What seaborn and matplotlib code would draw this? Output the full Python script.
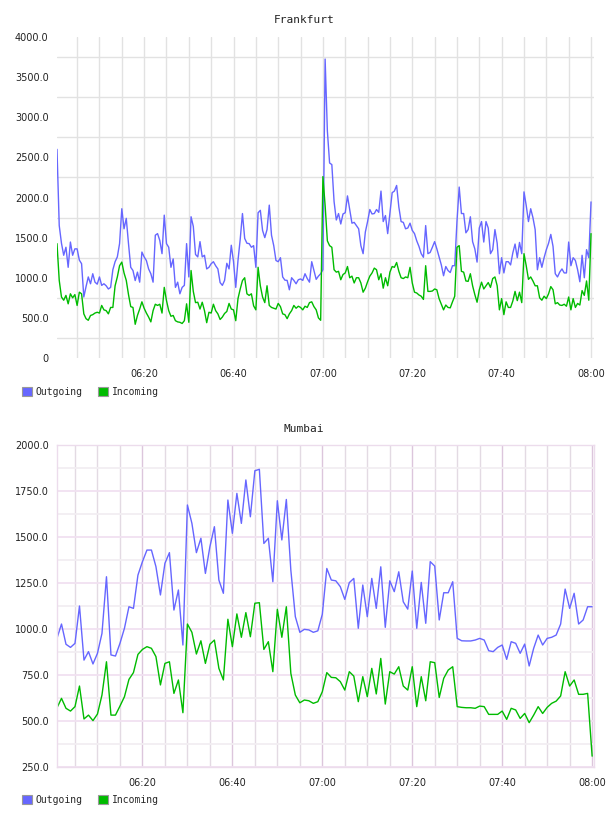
import matplotlib
matplotlib.use('Agg')
import matplotlib.pyplot as plt
import matplotlib.dates as mdates
from matplotlib.patches import Patch
from matplotlib.ticker import MultipleLocator, FuncFormatter
import seaborn as sns
import pandas as pd

# Frankfurt: one sample every 30 s from 06:00:30
frankfurt_outgoing = [
    2600, 1650, 1430, 1280, 1380, 1130, 1445, 1280, 1360, 1360,
    1220, 1175, 760, 890, 1010, 925, 1050, 945, 920, 1010,
    905, 925, 900, 860, 880, 1100, 1200, 1260, 1425, 1860,
    1610, 1740, 1425, 1130, 1090, 965, 1070, 945, 1320, 1260,
    1215, 1110, 1050, 945, 1530, 1550, 1465, 1300, 1780, 1425,
    1380, 1130, 1235, 880, 945, 800, 880, 905, 1425, 1010,
    1760, 1640, 1290, 1260, 1450, 1260, 1280, 1110, 1130, 1175,
    1200, 1150, 1110, 940, 905, 967, 1180, 1110, 1405, 1200,
    880, 1215, 1480, 1800, 1490, 1430, 1425, 1380, 1400, 1130,
    1810, 1840, 1590, 1500, 1600, 1905, 1530, 1400, 1215, 1200,
    1250, 1010, 970, 967, 850, 1000, 967, 925, 975, 985,
    967, 1050, 990, 945, 1200, 1090, 980, 1020, 1050, 1100,
    3725, 2830, 2430, 2410, 1950, 1720, 1800, 1670, 1795, 1810,
    2020, 1850, 1680, 1690, 1650, 1610, 1400, 1300, 1570, 1700,
    1850, 1795, 1800, 1850, 1815, 2080, 1700, 1775, 1550, 1800,
    2060, 2080, 2150, 1880, 1700, 1690, 1610, 1620, 1680, 1590,
    1550, 1460, 1390, 1300, 1255, 1650, 1300, 1315, 1380, 1450,
    1360, 1260, 1160, 1025, 1140, 1090, 1065, 1150, 1150, 1700,
    2130, 1800, 1800, 1560, 1600, 1760, 1450, 1360, 1195, 1620,
    1700, 1445, 1700, 1620, 1300, 1350, 1600, 1430, 1050, 1250,
    1060, 1200, 1200, 1160, 1310, 1420, 1250, 1440, 1300, 2070,
    1900, 1700, 1860, 1750, 1600, 1100, 1250, 1130, 1250, 1350,
    1430, 1540, 1390, 1050, 1010, 1070, 1110, 1060, 1060, 1445,
    1150, 1250, 1215, 1100, 950, 1280, 1000, 1350, 1250, 1945,
]
frankfurt_incoming = [
    1425, 967, 760, 720, 780, 675, 800, 750, 790, 655,
    820, 800, 550, 490, 470, 530, 540, 560, 570, 560,
    655, 600, 590, 550, 630, 630, 900, 1010, 1150, 1195,
    1060, 967, 790, 640, 630, 420, 530, 610, 700, 620,
    560, 510, 450, 590, 670, 655, 670, 560, 880, 715,
    590, 520, 530, 465, 450, 445, 430, 465, 675, 445,
    1090, 830, 690, 695, 610, 695, 590, 440, 570, 560,
    670, 590, 550, 480, 510, 555, 580, 680, 610, 600,
    465, 740, 860, 965, 1000, 800, 780, 800, 650, 600,
    1130, 900, 760, 690, 900, 655, 630, 620, 610, 680,
    640, 550, 540, 490, 550, 590, 655, 620, 645, 630,
    600, 645, 630, 690, 700, 640, 600, 500, 470, 2260,
    1900, 1460, 1400, 1380, 1100, 1070, 1080, 975, 1040, 1060,
    1140, 1000, 1020, 935, 1000, 1000, 935, 820, 870, 950,
    1020, 1060, 1120, 1100, 975, 1050, 870, 1000, 900, 1070,
    1140, 1130, 1190, 1080, 1000, 990, 1010, 1000, 1130, 935,
    820, 810, 785, 770, 730, 1150, 830, 830, 835, 860,
    850, 740, 670, 600, 660, 630, 625, 700, 770, 1380,
    1400, 1080, 1070, 960, 955, 1050, 900, 790, 695, 850,
    945, 860, 900, 940, 880, 990, 1010, 900, 600, 740,
    540, 700, 630, 630, 710, 830, 715, 820, 690, 1300,
    1150, 980, 1010, 960, 900, 900, 750, 720, 770, 740,
    800, 890, 850, 675, 690, 660, 655, 670, 645, 760,
    600, 740, 630, 680, 660, 840, 780, 960, 720, 1550,
]

# Mumbai: one sample every minute from 06:01
mumbai_outgoing = [
    950, 1027, 917, 900, 922, 1125, 831, 877, 810, 868,
    976, 1284, 859, 853, 922, 1004, 1121, 1112, 1293, 1366,
    1429, 1429, 1339, 1185, 1357, 1415, 1103, 1212, 913, 1674,
    1574, 1415, 1493, 1302, 1447, 1556, 1266, 1194, 1701, 1520,
    1737, 1574, 1810, 1610, 1860, 1868, 1465, 1493, 1257, 1697,
    1484, 1704, 1320, 1067, 982, 998, 995, 982, 990, 1080,
    1329, 1266, 1262, 1230, 1161, 1252, 1275, 1004, 1239, 1067,
    1275, 1112, 1338, 1009, 1262, 1203, 1311, 1148, 1108, 1315,
    1004, 1253, 1031, 1366, 1342, 1049, 1197, 1197, 1257, 949,
    936, 935, 935, 940, 949, 940, 882, 877, 900, 913,
    835, 931, 922, 868, 918, 799, 895, 967, 913, 949,
    955, 967, 1027, 1217, 1112, 1194, 1027, 1049, 1121, 1121,
]
mumbai_incoming = [
    572, 623, 569, 554, 578, 690, 511, 532, 502, 538,
    641, 822, 532, 532, 581, 632, 726, 763, 862, 889,
    904, 895, 850, 696, 813, 822, 650, 723, 545, 1027,
    982, 864, 936, 813, 917, 940, 786, 723, 1053, 904,
    1082, 955, 1089, 958, 1140, 1143, 889, 931, 768, 1107,
    955, 1121, 759, 641, 599, 614, 610, 596, 605, 659,
    763, 737, 735, 714, 668, 768, 744, 605, 741, 632,
    786, 647, 840, 592, 768, 755, 795, 690, 668, 795,
    578, 741, 610, 822, 817, 628, 732, 777, 795, 578,
    574, 572, 572, 569, 581, 578, 536, 536, 536, 554,
    509, 569, 560, 514, 541, 491, 532, 578, 541, 574,
    596, 608, 636, 768, 690, 723, 645, 645, 650, 309,
]

series_names = ['Outgoing', 'Incoming']
colors = {'Outgoing': '#6666ff', 'Incoming': '#00bb00'}

frankfurt_times = pd.date_range('2024-01-01 06:00:30', periods=len(frankfurt_outgoing), freq='30s')
mumbai_times = pd.date_range('2024-01-01 06:01:00', periods=len(mumbai_outgoing), freq='1min')


def make_frame(times, outgoing, incoming):
    df = pd.DataFrame({'time': times, 'Outgoing': outgoing, 'Incoming': incoming})
    return df.melt(id_vars='time', var_name='series', value_name='value')


def fmt_value(v, pos):
    return '0' if v == 0 else f'{v:.1f}'


sns.set_theme(style='white')
plt.rcParams['font.family'] = ['DejaVu Sans']

fig = plt.figure(figsize=(6.08, 8.16), dpi=100)
W, H = 608, 816


def add_panel(px_left, px_top, px_right, px_bottom):
    return fig.add_axes([px_left / W, 1 - px_bottom / H,
                         (px_right - px_left) / W, (px_bottom - px_top) / H])


ax1 = add_panel(57, 37, 594, 358)
ax2 = add_panel(57, 445, 594, 767)

for ax, times, out, inc in [(ax1, frankfurt_times, frankfurt_outgoing, frankfurt_incoming),
                             (ax2, mumbai_times, mumbai_outgoing, mumbai_incoming)]:
    df = make_frame(times, out, inc)
    sns.lineplot(data=df, x='time', y='value', hue='series', hue_order=series_names,
                 palette=colors, estimator=None, linewidth=1.0, legend=False, ax=ax)
    ax.set_xlabel('')
    ax.set_ylabel('')
    ax.xaxis.set_major_locator(mdates.MinuteLocator(byminute=[0, 20, 40]))
    ax.xaxis.set_minor_locator(mdates.MinuteLocator(byminute=list(range(0, 60, 5))))
    ax.xaxis.set_major_formatter(mdates.DateFormatter('%H:%M'))
    ax.tick_params(which='both', length=0, labelsize=7, colors='#222222')
    ax.tick_params(axis='x', pad=8)
    ax.tick_params(axis='y', pad=6)
    ax.set_axisbelow(True)

# Frankfurt styling: gray grid, offset horizontal lines, no frame
ax1.set_xlim(frankfurt_times[0], frankfurt_times[-1] + pd.Timedelta(seconds=40))
ax1.set_ylim(0, 4000)
ax1.yaxis.set_major_locator(MultipleLocator(500))
ax1.yaxis.set_minor_locator(MultipleLocator(500, offset=250))
ax1.yaxis.set_major_formatter(FuncFormatter(fmt_value))
ax1.grid(False)
ax1.grid(True, which='both', axis='x', color='#e2e2e2', linewidth=1.0)
ax1.grid(True, which='minor', axis='y', color='#e2e2e2', linewidth=1.0)
for s in ax1.spines.values():
    s.set_visible(False)

# Mumbai styling: pinkish grid with major/minor
ax2.set_xlim(mumbai_times[0], mumbai_times[-1] + pd.Timedelta(seconds=25))
ax2.set_ylim(250, 2000)
ax2.yaxis.set_major_locator(MultipleLocator(250))
ax2.yaxis.set_minor_locator(MultipleLocator(250, offset=125))
ax2.yaxis.set_major_formatter(FuncFormatter(fmt_value))
ax2.grid(False)
ax2.xaxis.grid(True, which='both', color='#e3dae3', linewidth=1.0)
ax2.xaxis.grid(True, which='major', color='#dcc6dc', linewidth=1.0)
ax2.yaxis.grid(True, which='both', color='#f2eef2', linewidth=1.3)
ax2.yaxis.grid(True, which='major', color='#f1e1f1', linewidth=1.3)
for s in ax2.spines.values():
    s.set_color('#ecdcec')
    s.set_linewidth(1.0)

# titles and legends
fig.text(0.5, 1 - 20 / H, 'Frankfurt', ha='center', va='center',
         family='DejaVu Sans Mono', fontsize=8, color='#222222')
fig.text(0.5, 1 - 429 / H, 'Mumbai', ha='center', va='center',
         family='DejaVu Sans Mono', fontsize=8, color='#222222')

handles = [Patch(facecolor=colors[n], edgecolor='#999999', linewidth=0.8, label=n) for n in series_names]
for y in (392, 800):
    fig.legend(handles=handles, loc='center left', bbox_to_anchor=(22 / W, 1 - y / H),
               ncol=2, frameon=False, handlelength=1.0, handleheight=1.0,
               handletextpad=0.4, columnspacing=1.6, borderpad=0, borderaxespad=0,
               prop={'family': 'DejaVu Sans Mono', 'size': 7})

fig.savefig('out.png', dpi=100)
